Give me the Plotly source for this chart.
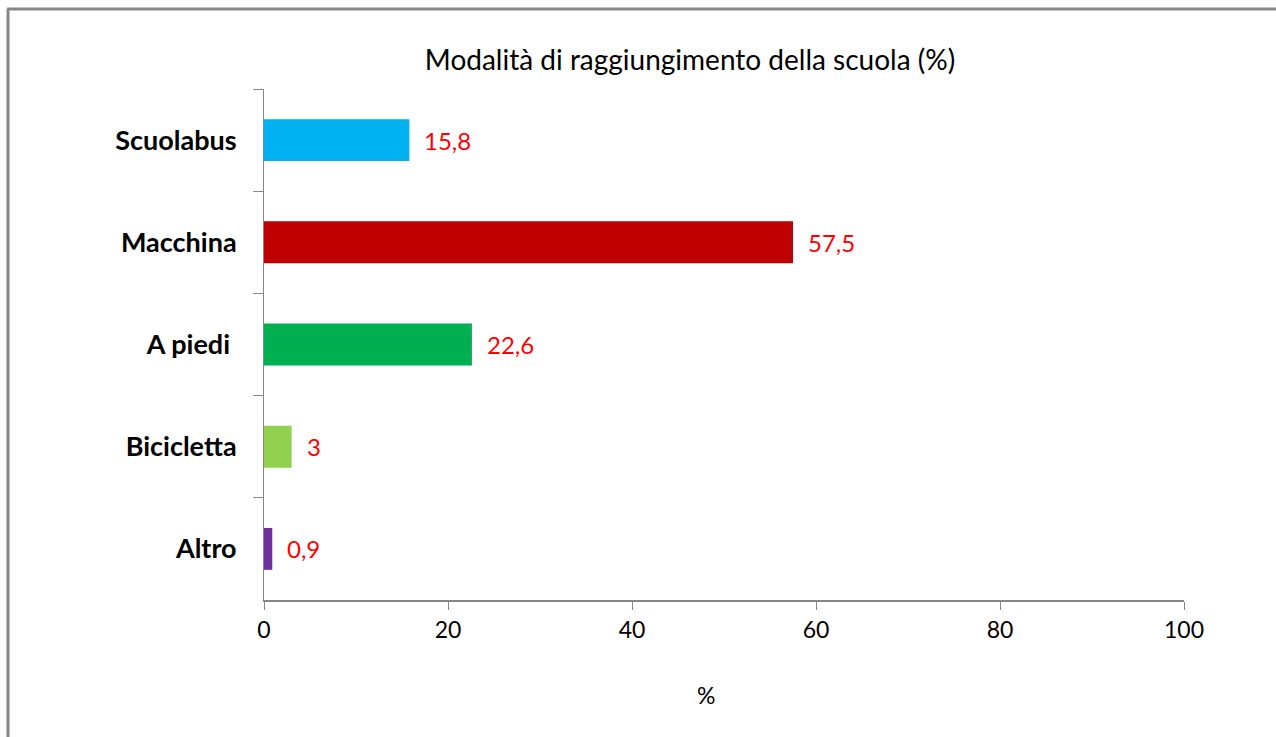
import plotly.graph_objects as go

categories = ["Scuolabus", "Macchina", "A piedi ", "Bicicletta", "Altro"]
values = [15.8, 57.5, 22.6, 3, 0.9]
bar_colors = ["#00B0F0", "#C00000", "#00B050", "#92D050", "#7030A0"]
x_ticks = [0, 20, 40, 60, 80, 100]

W, H = 1276, 737
L, R, T, B = 264, 1184, 89, 600

labels = [str(v).replace(".", ",") for v in values]

fig = go.Figure(go.Bar(
    x=values, y=categories, orientation="h",
    marker=dict(color=bar_colors, line=dict(width=0)),
    width=0.41,
))

for v, c, t in zip(values, categories, labels):
    fig.add_annotation(x=v, y=c, text=t, showarrow=False, xanchor="left",
                       xshift=13, font=dict(color="#FF0000", size=24, family="Lato"))

fig.update_layout(
    width=W, height=H,
    margin=dict(l=L, r=W - R, t=T, b=H - B),
    paper_bgcolor="white", plot_bgcolor="white",
    separators=",.",
    showlegend=False,
    title=dict(text="Modalità di raggiungimento della scuola (%)", x=690 / W, xanchor="center",
               y=1 - 60 / H, yanchor="middle",
               font=dict(family="Lato", size=28, color="black")),
    font=dict(family="Lato", color="black"),
)
fig.update_xaxes(range=[0, 100], tickvals=x_ticks, showgrid=False, zeroline=False,
                 showline=True, linecolor="#868686", linewidth=2,
                 ticks="outside", ticklen=8, tickcolor="#868686", tickwidth=1,
                 tickfont=dict(size=23, family="Lato", color="black"))
fig.update_yaxes(categoryorder="array", categoryarray=categories,
                 range=[4.5, -0.5], showgrid=False,
                 showline=True, linecolor="#868686", linewidth=1,
                 ticks="outside", ticklen=10, tickcolor="#868686", tickson="boundaries",
                 ticklabelstandoff=21,
                 tickfont=dict(size=27, family="Lato", color="black", weight="bold"))

fig.add_annotation(text="%", x=(706 - L) / (R - L), y=-(695 - B) / (B - T), xref="paper", yref="paper",
                   xanchor="center", yanchor="middle",
                   showarrow=False, font=dict(size=23, family="Lato", color="black"))

# outer frame (partially visible)
fig.add_shape(type="line", xref="paper", yref="paper",
              x0=(8 - L) / (R - L), x1=(8 - L) / (R - L),
              y0=(B - 9) / (B - T), y1=(B - 740) / (B - T),
              line=dict(color="#878787", width=3))
fig.add_shape(type="line", xref="paper", yref="paper",
              x0=(7 - L) / (R - L), x1=(1280 - L) / (R - L),
              y0=(B - 9) / (B - T), y1=(B - 9) / (B - T),
              line=dict(color="#878787", width=3))

fig.write_html("out.html", config={"displayModeBar": False},
               post_script="document.body.style.margin='0';")
